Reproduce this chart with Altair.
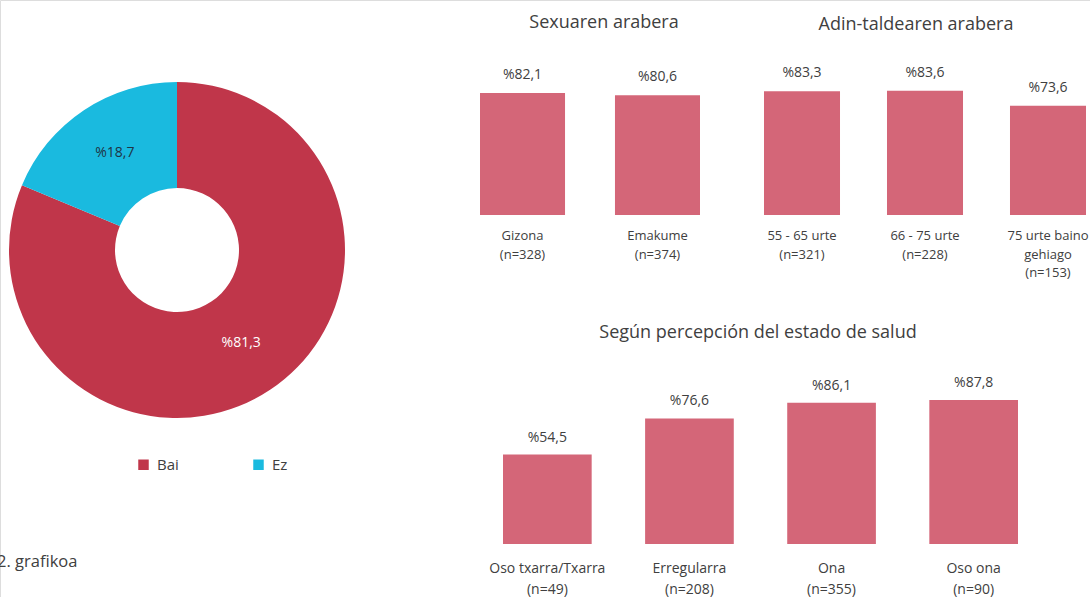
import altair as alt
import pandas as pd

# ---------------- data ----------------
pie_cats = ["Bai", "Ez"]
pie_vals = [81.3, 18.7]
pie_colors = ["#C0364A", "#1ABADF"]

sex_title = "Sexuaren arabera"
sex_cats = ["Gizona", "Emakume"]
sex_lines = [["Gizona"], ["Emakume"]]
sex_n = [328, 374]
sex_vals = [82.1, 80.6]

age_title = "Adin-taldearen arabera"
age_cats = ["55 - 65 urte", "66 - 75 urte", "75 urte baino gehiago"]
age_lines = [["55 - 65 urte"], ["66 - 75 urte"], ["75 urte baino", "gehiago"]]
age_n = [321, 228, 153]
age_vals = [83.3, 83.6, 73.6]

health_title = "Según percepción del estado de salud"
health_cats = ["Oso txarra/Txarra", "Erregularra", "Ona", "Oso ona"]
health_lines = [["Oso txarra/Txarra"], ["Erregularra"], ["Ona"], ["Oso ona"]]
health_n = [49, 208, 355, 90]
health_vals = [54.5, 76.6, 86.1, 87.8]

caption = "2. grafikoa"

# ---------------- style ----------------
FONT = "Open Sans"
TXT = "#404040"
BAR = "#D46678"


def pct(v):
    return "%" + f"{v:.1f}".replace(".", ",")


# ---------------- donut ----------------
pie_df = pd.DataFrame({"cat": pie_cats, "v": pie_vals, "t": [pct(v) for v in pie_vals]})
pie_df["idx"] = range(len(pie_cats))
pie_base = alt.Chart(pie_df).encode(
    theta=alt.Theta("v:Q", stack=True),
    order=alt.Order("idx:Q"),
)
arcs = pie_base.mark_arc(innerRadius=62, outerRadius=168).encode(
    x=alt.value(177),
    y=alt.value(250),
    color=alt.Color(
        "cat:N",
        scale=alt.Scale(domain=pie_cats, range=pie_colors),
        legend=alt.Legend(
            orient="none",
            legendX=136,
            legendY=457,
            direction="horizontal",
            title=None,
            symbolType="square",
            symbolSize=110,
            symbolStrokeWidth=0,
            labelFont=FONT,
            labelFontSize=15,
            labelColor=TXT,
            labelOffset=6,
            columnPadding=72,
            padding=0,
        ),
    ),
)
arc_text = pie_base.mark_text(radius=114, font=FONT, fontSize=14).encode(
    x=alt.value(178),
    y=alt.value(248),
    text="t:N",
    color=alt.condition("datum.cat == 'Bai'", alt.value("white"), alt.value("#1F3445")),
)
donut = alt.layer(arcs, arc_text)


# ---------------- bar groups ----------------
def group(cats, lines, ns, vals, xrange, pad, yrange, fs_lab, lh, dy_lab, dy_val):
    df = pd.DataFrame({
        "cat": cats,
        "v": vals,
        "vt": [pct(v) for v in vals],
        "lab": ["\n".join(l + [f"(n={n})"]) for l, n in zip(lines, ns)],
    })
    xs = alt.Scale(domain=cats, range=xrange, paddingInner=pad, paddingOuter=0)
    ys = alt.Scale(domain=[0, 100], range=yrange, nice=False, zero=True)
    base = alt.Chart(df).encode(x=alt.X("cat:N", sort=cats, scale=xs, axis=None))
    bars = base.mark_bar(color=BAR).encode(y=alt.Y("v:Q", scale=ys, axis=None))
    vtext = base.mark_text(font=FONT, fontSize=14, color=TXT, baseline="middle", dy=dy_val).encode(
        y=alt.Y("v:Q", scale=ys, axis=None), text="vt:N"
    )
    ltext = base.mark_text(
        font=FONT, fontSize=fs_lab, color=TXT, baseline="top", lineBreak="\n", lineHeight=lh, dy=dy_lab
    ).encode(y=alt.Y(datum=0, type="quantitative", scale=ys, axis=None), text="lab:N")
    return alt.layer(bars, vtext, ltext)


sex = group(sex_cats, sex_lines, sex_n, sex_vals, [480, 700], 0.37, [215, 66.4], 13, 18.5, 15, -18)
age = group(age_cats, age_lines, age_n, age_vals, [764, 1086], 0.382, [215, 66.4], 13, 18.5, 15, -18)
health = group(health_cats, health_lines, health_n, health_vals, [503, 1018], 0.376, [544, 380], 14, 21, 18, -17)


# ---------------- titles ----------------
def label(text, x, y, size, align="center"):
    return alt.Chart(pd.DataFrame({"t": [text]})).mark_text(
        font=FONT, fontSize=size, color=TXT, align=align, baseline="middle"
    ).encode(x=alt.value(x), y=alt.value(y), text="t:N")


titles = alt.layer(
    label(sex_title, 604, 23, 18),
    label(age_title, 916, 25, 18),
    label(health_title, 758, 333, 18),
    label(caption, -3, 562, 16.5, align="left"),
)

chart = (
    alt.layer(donut, sex, age, health, titles)
    .resolve_scale(x="independent", y="independent", theta="independent", color="independent")
    .properties(width=1090, height=597, autosize=alt.AutoSizeParams(type="none"), padding=0)
    .configure_view(stroke="transparent", strokeWidth=0)
    .configure(background="white")
)

chart.save("out.html", embed_options={"renderer": "svg", "actions": False})
